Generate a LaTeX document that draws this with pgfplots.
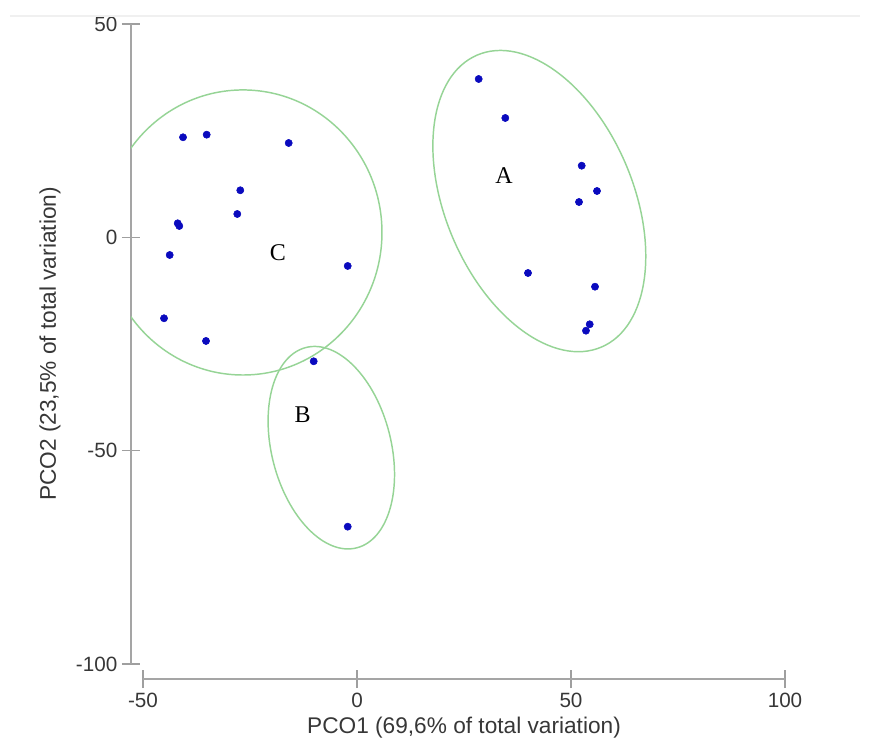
\documentclass[border=0pt]{standalone}
\usepackage{pgfplots}
\pgfplotsset{compat=1.18}
\usepackage{pgfplotstable}
\usepackage{fontspec}
\setmainfont{Liberation Sans}
\newfontfamily\seriffont{Liberation Serif}
\definecolor{ptblue}{RGB}{10,10,190}
\definecolor{ellgreen}{RGB}{150,212,150}
\definecolor{axgray}{RGB}{165,165,165}
\definecolor{txtgray}{RGB}{55,55,55}

% Group C
\pgfplotstableread{
x y
-40.65 23.45
-35.12 24.06
-15.96 22.11
-27.27 11.03
-27.97 5.47
-41.89 3.29
-41.52 2.66
-43.76 -4.14
-2.17 -6.71
-45.09 -18.97
-35.28 -24.29
}\groupC
% Group B
\pgfplotstableread{
x y
-10.12 -29.05
-2.17 -67.81
}\groupB
% Group A
\pgfplotstableread{
x y
28.43 37.11
34.65 27.97
52.50 16.79
56.07 10.86
51.87 8.28
39.95 -8.36
55.61 -11.57
54.37 -20.38
53.50 -21.88
}\groupA

\begin{document}
\begin{tikzpicture}
\begin{axis}[
  scale only axis, width=481.5pt, height=480pt,
  xmin=-50, xmax=100, ymin=-100, ymax=50,
  axis x line*=bottom, axis y line*=left,
  axis x line shift=11.25pt, axis y line shift=9pt,
  axis line style={draw=axgray, line width=1.5pt, -},
  xtick={-50,0,50,100}, ytick={-100,-50,0,50},
  tick align=center, major tick length=13.5pt,
  tick style={draw=gray!75, line width=0.8pt},
  /pgf/number format/assume math mode=true,
  ticklabel style={font=\fontsize{15.5}{18}\selectfont, text=txtgray},
  label style={font=\fontsize{17}{20}\selectfont, text=txtgray},
  xlabel={PCO1 (69,6\% of total variation)},
  ylabel={PCO2 (23,5\% of total variation)},
  xlabel style={at={(axis description cs:0.5,-0.1)}, anchor=center},
  ylabel style={at={(axis description cs:-0.14486,0.5)}, anchor=center},
  clip=false,
]
\begin{scope}
\clip (axis cs:-52.8,-120) rectangle (axis cs:110,60);
\draw[ellgreen, line width=1.1pt, rotate around={-67:(axis cs:42.6,8.5)}]
  (axis cs:42.6,8.5) ellipse [x radius=119pt, y radius=70.5pt];
\draw[ellgreen, line width=1.1pt, rotate around={-75.8:(axis cs:-6.0,-49.3)}]
  (axis cs:-6.0,-49.3) ellipse [x radius=77.5pt, y radius=44.8pt];
\draw[ellgreen, line width=1.1pt]
  (axis cs:-26.64,1.14) ellipse [x radius=104.25pt, y radius=106.9pt];
\end{scope}
\addplot[only marks, mark=*, mark size=2.7pt, color=ptblue] table {\groupA};
\addplot[only marks, mark=*, mark size=2.7pt, color=ptblue] table {\groupB};
\addplot[only marks, mark=*, mark size=2.7pt, color=ptblue] table {\groupC};
\node[font=\seriffont\fontsize{18}{20}\selectfont] at (axis cs:34.35,14.38) {A};
\node[font=\seriffont\fontsize{18}{20}\selectfont] at (axis cs:-12.73,-41.52) {B};
\node[font=\seriffont\fontsize{18}{20}\selectfont] at (axis cs:-18.46,-3.5) {C};
\end{axis}
\draw[gray!12, line width=0.8pt] (-99.75pt,486pt) -- (537.75pt,486pt);
\pgfresetboundingbox
\path (-107.25pt,-57pt) rectangle (546pt,498pt);
\end{tikzpicture}
\end{document}
